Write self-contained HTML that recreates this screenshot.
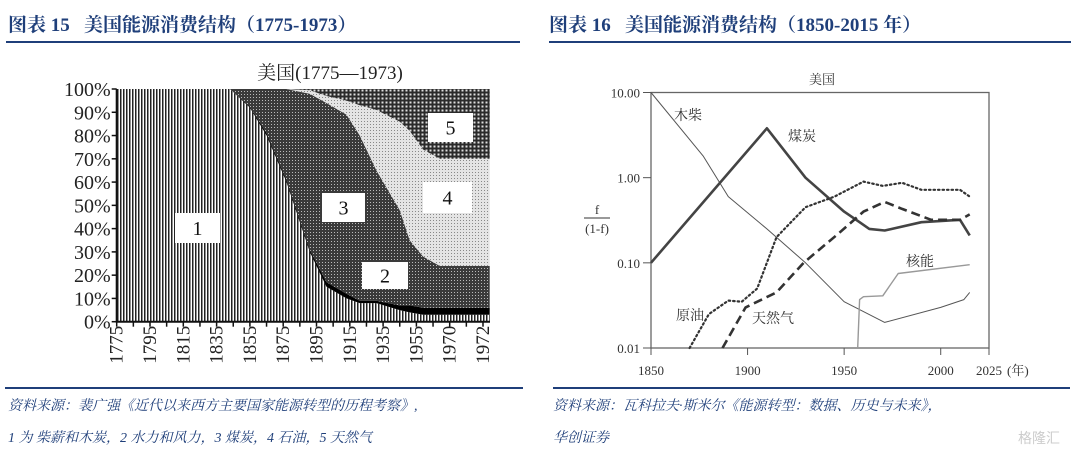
<!DOCTYPE html>
<html><head><meta charset="utf-8"><style>
html,body{margin:0;padding:0;background:#fff;}
svg{display:block;font-family:"Liberation Serif","Noto Serif CJK SC",serif;}
</style></head><body>
<svg id="page" width="1079" height="451" viewBox="0 0 1079 451" xmlns="http://www.w3.org/2000/svg">
<defs>
<pattern id="pWood" width="3" height="4" patternUnits="userSpaceOnUse"><rect width="3" height="4" fill="#fff"/><rect width="1.5" height="4" fill="#222"/></pattern>
<pattern id="pCoal" width="3" height="3" patternUnits="userSpaceOnUse"><rect width="3" height="3" fill="#3a3a3a"/><rect x="1" y="1" width="1" height="1" fill="#bbb"/></pattern>
<pattern id="pOil" width="3" height="3" patternUnits="userSpaceOnUse"><rect width="3" height="3" fill="#e4e4e4"/><rect x="1" y="1" width="1" height="1" fill="#888"/></pattern>
<pattern id="pGas" width="4" height="4" patternUnits="userSpaceOnUse"><rect width="4" height="4" fill="#2a2a2a"/><rect x="1.5" y="1.5" width="2" height="2" fill="#ddd"/></pattern>
</defs>
<!-- headers -->
<text x="8" y="31" font-size="19" font-weight="bold" fill="#1f3f7a">图表 15 &#160; 美国能源消费结构（1775-1973）</text>
<rect x="6" y="41" width="514" height="2" fill="#1f3f7a"/>
<text x="549" y="31" font-size="19" font-weight="bold" fill="#1f3f7a">图表 16 &#160; 美国能源消费结构（1850-2015 年）</text>
<rect x="549" y="41" width="522" height="2" fill="#1f3f7a"/>
<!-- footers -->
<rect x="5" y="387" width="518" height="2" fill="#1f3f7a"/>
<rect x="553" y="387" width="517" height="2" fill="#1f3f7a"/>
<text x="8" y="410" font-size="14" font-style="italic" fill="#1f3f7a">资料来源：裴广强《近代以来西方主要国家能源转型的历程考察》,</text>
<text x="8" y="442" font-size="14" font-style="italic" fill="#1f3f7a">1 为 柴薪和木炭，2 水力和风力，3 煤炭，4 石油，5 天然气</text>
<text x="553" y="410" font-size="14" font-style="italic" fill="#1f3f7a">资料来源：瓦科拉夫·斯米尔《能源转型：数据、历史与未来》，</text>
<text x="553" y="442" font-size="14" font-style="italic" fill="#1f3f7a">华创证券</text>
<text x="1018" y="443" font-size="14" fill="#ccc" font-family="Liberation Sans, Noto Sans CJK SC, sans-serif">格隆汇</text>

<g id="left"></g>
<g id="right"></g>
</svg>
<script>
// ---------- Left chart data ----------
const leftTickLabels = ["1775","1795","1815","1835","1855","1875","1895","1915","1935","1955","1970","1972"];
const leftYTicks = [0,10,20,30,40,50,60,70,80,90,100];
const leftT = [0,3.4,4.0,4.5,5.1,5.8,6.3,6.9,7.3,7.8,8.5,8.8,9.2,9.7,11.2];
const shareWood  = [100,100,92,80,60,30,15,10,8,8,5,4,3,3,3];
const shareHydro = [0,0,0.5,1,1,1,2,2,1,1,2,3,3,3,3];
const shareCoal  = [0,0,7.5,19,39,67,77,77,71,56,41,28,22,18,18];
const shareOil   = [0,0,0,0,0,1.5,3,6,13,26,38,47,46,46,46];
const shareGas   = [0,0,0,0,0,0.5,3,5,7,9,14,18,26,30,30];

// ---------- Right chart data ----------
const rightXTicks = [1850,1900,1950,2000,2025];
const rightYTicks = [0.01,0.1,1,10];
const rightYTickLabels = ["0.01","0.10","1.00","10.00"];
const woodYears = [1850,1877,1890,1910,1930,1950,1971,2000,2012,2015];
const woodVals  = [10,1.8,0.6,0.25,0.1,0.035,0.02,0.03,0.037,0.045];
const coalYears = [1850,1910,1930,1950,1958,1963,1971,1990,2010,2015];
const coalVals  = [0.1,3.8,1.0,0.4,0.3,0.25,0.24,0.3,0.32,0.21];
const oilYears  = [1870,1880,1890,1897,1905,1915,1930,1945,1960,1970,1980,1990,2010,2015];
const oilVals   = [0.01,0.025,0.036,0.035,0.05,0.2,0.45,0.6,0.9,0.8,0.87,0.72,0.72,0.6];
const gasYears  = [1887,1899,1915,1929,1947,1960,1971,1980,1995,2010,2015];
const gasVals   = [0.01,0.03,0.045,0.1,0.22,0.4,0.52,0.43,0.32,0.32,0.37];
const nucYears  = [1957,1958,1960,1970,1978,2015];
const nucVals   = [0.01,0.037,0.04,0.041,0.075,0.095];

const NS="http://www.w3.org/2000/svg";
function mk(tag,attrs,parent){const e=document.createElementNS(NS,tag);for(const k in attrs)e.setAttribute(k,attrs[k]);parent.appendChild(e);return e;}

// ---- left ----
(function(){
const g=document.getElementById('left');
const L=116.7,R=490,T=89,B=321.7,step=33.3;
const xs=t=>L+t*step, ys=v=>B-(v/100)*(B-T);
const t1=mk('text',{x:330,y:79,'font-size':19,'text-anchor':'middle',fill:'#222'},g);t1.textContent="美国(1775—1973)";

const series=[shareWood,shareHydro,shareCoal,shareOil,shareGas];
const fills=['url(#pWood)','#000','url(#pCoal)','url(#pOil)','url(#pGas)'];
const names=['area-wood','area-hydro','area-coal','area-oil','area-gas'];
const cum=leftT.map(()=>0);
series.forEach((s,si)=>{
  const lo=cum.slice(); s.forEach((v,i)=>cum[i]+=v);
  let d='';
  leftT.forEach((t,i)=>{d+=(i?'L':'M')+xs(t).toFixed(1)+','+ys(cum[i]).toFixed(1);});
  for(let i=leftT.length-1;i>=0;i--)d+='L'+xs(leftT[i]).toFixed(1)+','+ys(lo[i]).toFixed(1);
  const p=mk('path',{d:d+'Z',fill:fills[si]},g);
  
});
// label boxes
const boxes=[["1",175,213,45,30],["3",322,193,43,29],["2",362,262,46,27],["4",423,182,49,31],["5",428,113,45,29]];
boxes.forEach(b=>{
  const r=mk('rect',{x:b[1],y:b[2],width:b[3],height:b[4],fill:'#fff'},g);
  
  const t=mk('text',{x:b[1]+b[3]/2,y:b[2]+b[4]/2+7,'font-size':20,'text-anchor':'middle',fill:'#111'},g);t.textContent=b[0];
  
});
// axes
const ax=mk('path',{d:`M${L},${T}L${L},${B}L${R},${B}`,stroke:'#111','stroke-width':2,fill:'none'},g);

leftYTicks.forEach(v=>{
  mk('line',{x1:L-5,x2:L,y1:ys(v),y2:ys(v),stroke:'#111','stroke-width':1.5},g);
  const t=mk('text',{x:L-6,y:ys(v)+7,'font-size':20,'text-anchor':'end',fill:'#222'},g);t.textContent=v+'%';
  
});
for(let i=0;i<=22;i++){const x=L+i*step/2;if(x>R+1)break;mk('line',{x1:x,x2:x,y1:B,y2:B+5,stroke:'#111','stroke-width':1.5},g);}
leftTickLabels.forEach((lab,i)=>{
  const x=xs(i)+6,y=B+4;
  const t=mk('text',{x:x,y:y,'font-size':19,'text-anchor':'end',fill:'#222',transform:`rotate(-90 ${x} ${y})`},g);t.textContent=lab;
  
});
})();

// ---- right ----
(function(){
const g=document.getElementById('right');
const L=651,R=989,T=92.5,B=348;
const xs=y=>L+(y-1850)/(2025-1850)*(R-L);
const ys=v=>B-(Math.log10(v)+2)/3*(B-T);
const fr=mk('rect',{x:L,y:T,width:R-L,height:B-T,fill:'none',stroke:'#666','stroke-width':1.3},g);

const tt=mk('text',{x:822,y:84,'font-size':13,'text-anchor':'middle',fill:'#333'},g);tt.textContent='美国';

rightYTicks.forEach((v,i)=>{
  mk('line',{x1:L-8,x2:L,y1:ys(v),y2:ys(v),stroke:'#555','stroke-width':1},g);
  const t=mk('text',{x:L-11,y:ys(v)+5,'font-size':13,'text-anchor':'end',fill:'#333'},g);t.textContent=rightYTickLabels[i];
  
});
rightXTicks.forEach(v=>{
  mk('line',{x1:xs(v),x2:xs(v),y1:B,y2:B+7,stroke:'#555','stroke-width':1},g);
  const t=mk('text',{x:xs(v),y:375,'font-size':13,'text-anchor':'middle',fill:'#333'},g);t.textContent=v;
  
});
const yu=mk('text',{x:1007,y:375,'font-size':13,fill:'#333'},g);yu.textContent='(年)';

const f1=mk('text',{x:597,y:214,'font-size':13,'text-anchor':'middle',fill:'#333'},g);f1.textContent='f';

mk('line',{x1:584,x2:610,y1:218,y2:218,stroke:'#333','stroke-width':1},g);
const f2=mk('text',{x:597,y:233,'font-size':13,'text-anchor':'middle',fill:'#333'},g);f2.textContent='(1-f)';

function line(yrs,vals,style,name){
  const d=yrs.map((y,i)=>(i?'L':'M')+xs(y).toFixed(1)+','+ys(vals[i]).toFixed(1)).join('');
  const p=mk('path',Object.assign({d:d,fill:'none','stroke-linejoin':'round'},style),g);
  
}
line(woodYears,woodVals,{stroke:'#555','stroke-width':1},'line-wood');
line(coalYears,coalVals,{stroke:'#444','stroke-width':2.6},'line-coal');
line(oilYears,oilVals,{stroke:'#333','stroke-width':2.2,'stroke-dasharray':'1.5 3','stroke-linecap':'round'},'line-oil');
line(gasYears,gasVals,{stroke:'#333','stroke-width':2.6,'stroke-dasharray':'9 5'},'line-gas');
line(nucYears,nucVals,{stroke:'#999','stroke-width':1.4},'line-nuclear');
const labs=[['木柴',688,120],['煤炭',802,141],['原油',690,320],['天然气',773,323],['核能',920,266]];
labs.forEach(l=>{const t=mk('text',{x:l[1],y:l[2],'font-size':14,'text-anchor':'middle',fill:'#333'},g);t.textContent=l[0];
  });
})();
</script>
</body></html>
